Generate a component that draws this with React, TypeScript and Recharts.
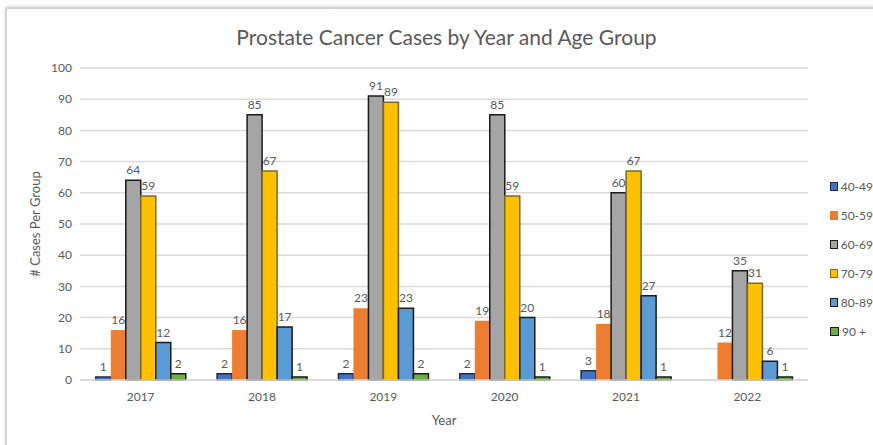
import { Bar, BarChart, CartesianGrid, LabelList, Legend, XAxis, YAxis } from "recharts";

const years = ["2017", "2018", "2019", "2020", "2021", "2022"];
const age40to49 = [1, 2, 2, 2, 3, null];
const age50to59 = [16, 16, 23, 19, 18, 12];
const age60to69 = [64, 85, 91, 85, 60, 35];
const age70to79 = [59, 67, 89, 59, 67, 31];
const age80to89 = [12, 17, 23, 20, 27, 6];
const age90plus = [2, 1, 2, 1, 1, 1];
const yTicks = [0, 10, 20, 30, 40, 50, 60, 70, 80, 90, 100];

const series = [
  { key: "40-49", values: age40to49, fill: "#4472C4", stroke: "#1f2a44" },
  { key: "50-59", values: age50to59, fill: "#ED7D31", stroke: "none" },
  { key: "60-69", values: age60to69, fill: "#A5A5A5", stroke: "#1a1a1a" },
  { key: "70-79", values: age70to79, fill: "#FFC000", stroke: "#7a6a2a" },
  { key: "80-89", values: age80to89, fill: "#5B9BD5", stroke: "#1a1a1a" },
  { key: "90 +", values: age90plus, fill: "#70AD47", stroke: "#1a1a1a" },
];

const chartData = years.map((year, i) => {
  const row: Record<string, string | number | null> = { year };
  series.forEach((s) => {
    row[s.key] = s.values[i];
  });
  return row;
});

const FONT = "Lato, 'Liberation Sans', sans-serif";
const TEXT = "#595959";

function LegendBox() {
  return (
    <div style={{ fontFamily: FONT, fontSize: 12, color: TEXT, whiteSpace: "nowrap" }}>
      {series.map((s) => (
        <div key={s.key} style={{ display: "flex", alignItems: "center", height: 29 }}>
          <span
            style={{
              display: "inline-block",
              width: 7,
              height: 7,
              background: s.fill,
              border: s.stroke === "none" ? `1px solid ${s.fill}` : `1px solid ${s.stroke}`,
              marginRight: 3,
            }}
          />
          {s.key}
        </div>
      ))}
    </div>
  );
}

export default function App() {
  return (
    <div style={{ position: "absolute", left: 0, top: 0, width: 873, height: 445, background: "#fff", overflow: "hidden" }}>
      <div
        style={{
          position: "absolute",
          left: 5,
          top: 7,
          width: 900,
          height: 480,
          borderLeft: "2px solid #d4d4d4",
          borderTop: "2px solid #d4d4d4",
          boxShadow: "0 -1px 3px rgba(0,0,0,0.12)",
        }}
      />
      <div
        style={{
          position: "absolute",
          left: 0,
          top: 24,
          width: 893,
          textAlign: "center",
          fontFamily: FONT,
          fontSize: 21,
          color: TEXT,
        }}
      >
        Prostate Cancer Cases by Year and Age Group
      </div>
      <div style={{ position: "absolute", left: 0, top: 0 }}>
        <BarChart
          width={873}
          height={445}
          data={chartData}
          margin={{ top: 68, right: 22, bottom: 15, left: 0 }}
          barCategoryGap="13%"
          barGap={0}
        >
          <CartesianGrid vertical={false} stroke="#d9d9d9" strokeWidth={1.5} />
          <XAxis
            dataKey="year"
            height={50}
            axisLine={{ stroke: "#d9d9d9", strokeWidth: 1.5 }}
            tickLine={false}
            tickMargin={6}
            tick={{ fill: TEXT, fontSize: 12, fontFamily: FONT }}
            label={{ value: "Year", position: "insideBottom", offset: 5, fill: TEXT, fontSize: 13, fontFamily: FONT }}
          />
          <YAxis
            width={80}
            domain={[0, 100]}
            ticks={yTicks}
            axisLine={false}
            tickLine={false}
            tick={{ fill: TEXT, fontSize: 12, fontFamily: FONT }}
            label={{
              value: "# Cases Per Group",
              angle: -90,
              position: "insideLeft",
              offset: 35,
              style: { textAnchor: "middle" },
              fill: TEXT,
              fontSize: 13,
              fontFamily: FONT,
            }}
          />
          <Legend
            layout="vertical"
            align="right"
            verticalAlign="top"
            content={() => <LegendBox />}
            wrapperStyle={{ left: 830, top: 172, width: 43 }}
          />
          {series.map((s) => (
            <Bar
              key={s.key}
              dataKey={s.key}
              fill={s.fill}
              stroke={s.stroke}
              strokeWidth={1.5}
              isAnimationActive={false}
            >
              <LabelList
                dataKey={s.key}
                position="top"
                offset={6}
                fill={TEXT}
                fontSize={12}
                fontFamily={FONT}
                formatter={(v: unknown) => (v === null || v === undefined ? "" : String(v))}
              />
            </Bar>
          ))}
        </BarChart>
      </div>
    </div>
  );
}
